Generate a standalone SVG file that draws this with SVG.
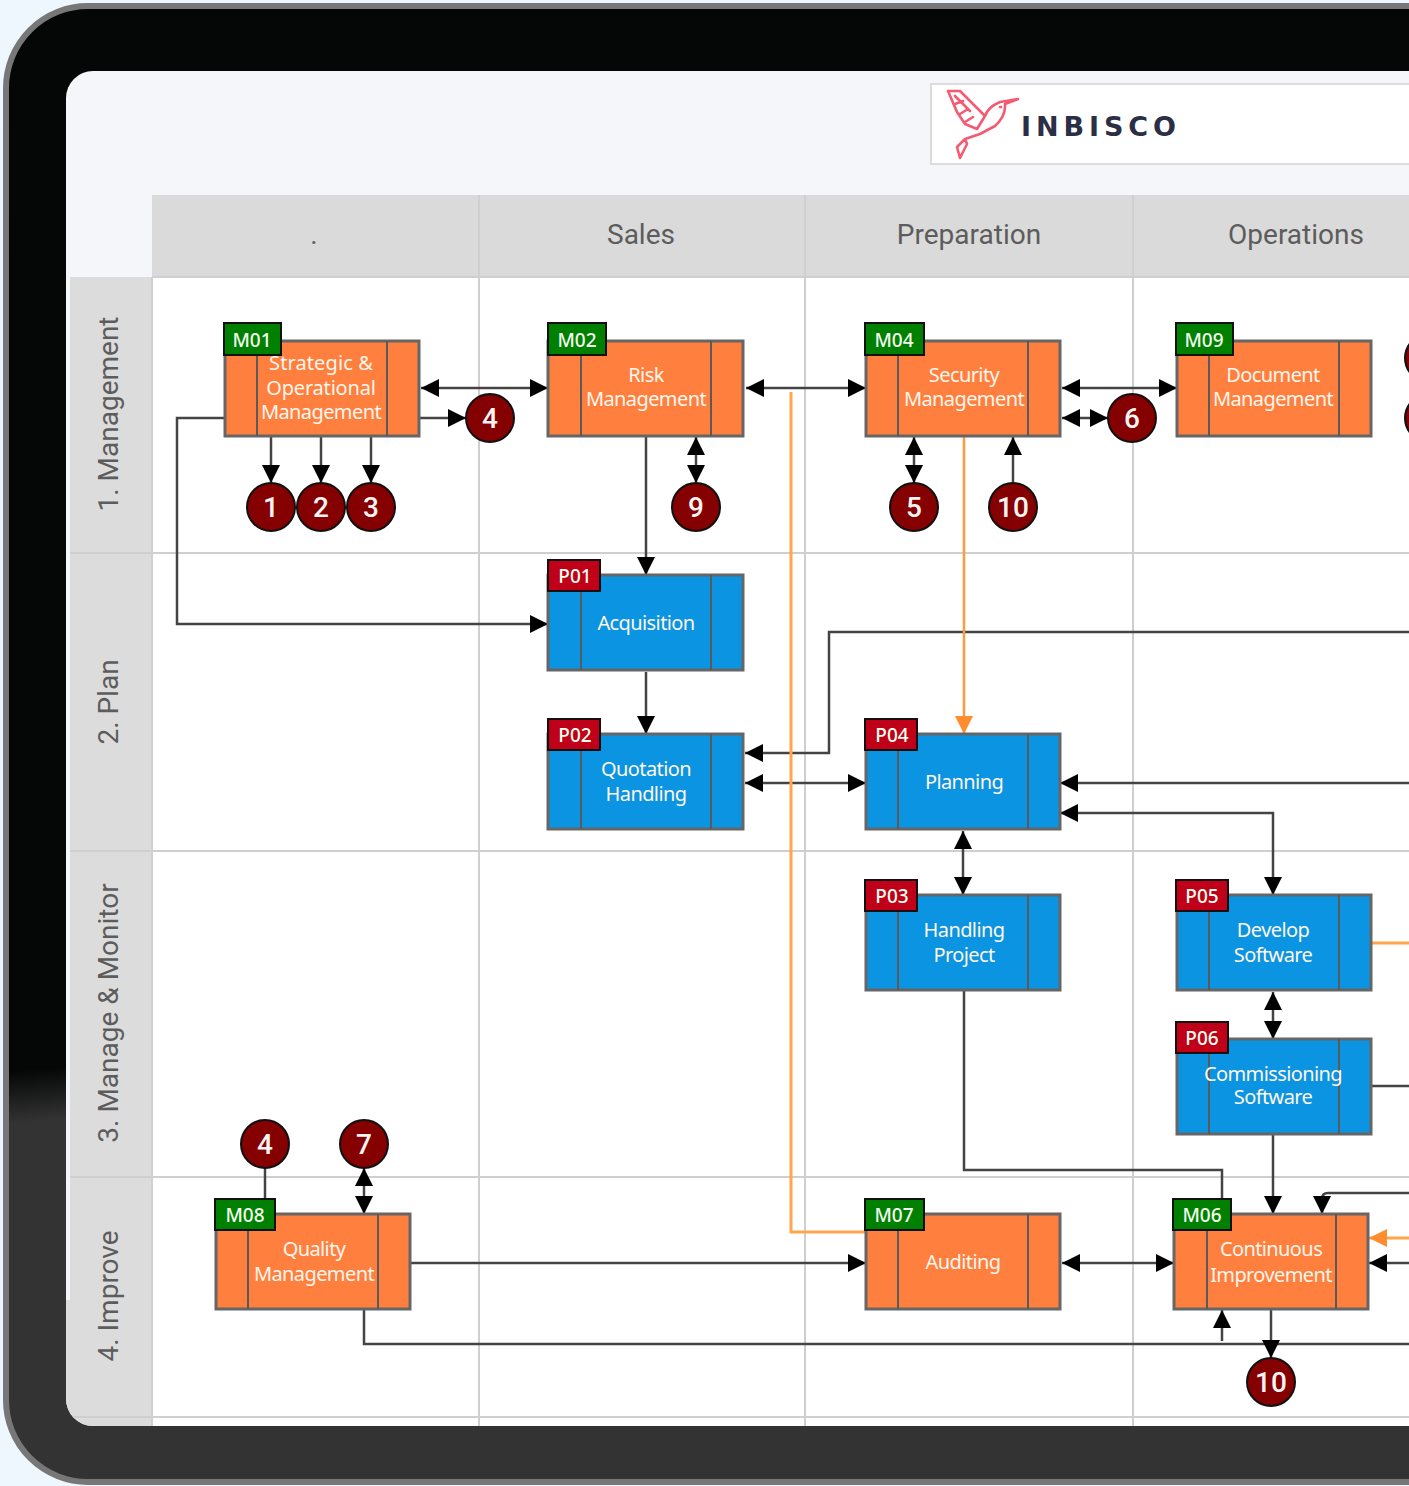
<svg xmlns="http://www.w3.org/2000/svg" width="1409" height="1486" viewBox="0 0 1409 1486">
<defs>
<linearGradient id="bezel" x1="0" y1="0" x2="0.1" y2="1"><stop offset="0.715" stop-color="#050606"/><stop offset="0.75" stop-color="#333"/><stop offset="1" stop-color="#333"/></linearGradient>
<clipPath id="screen"><rect x="66" y="71" width="1500" height="1355" rx="27"/></clipPath>
<marker id="a" viewBox="0 0 18 18" refX="18" refY="9" markerWidth="18" markerHeight="18" markerUnits="userSpaceOnUse" orient="auto-start-reverse"><path d="M0 0L18 9L0 18z" fill="#000"/></marker>
<marker id="o" viewBox="0 0 18 18" refX="18" refY="9" markerWidth="18" markerHeight="18" markerUnits="userSpaceOnUse" orient="auto-start-reverse"><path d="M0 0L18 9L0 18z" fill="#ff8c2e"/></marker>
</defs>
<style>
.box{stroke:#666;stroke-width:3}
.m{fill:#ff7f3f}.p{fill:#0a94e2}
.div{stroke:#5a5a5a;stroke-width:2;fill:none}
.tag{stroke:#111;stroke-width:2}
.tg{fill:#008000}.tr{fill:#c00018}
.tt{font:500 19px "Noto Sans",sans-serif;fill:#f4fff0;text-anchor:middle}
.lb{font:400 20px "Noto Sans",sans-serif;fill:#fff6ec;text-anchor:middle;letter-spacing:-.6px}
.c{fill:#850000;stroke:#111;stroke-width:2}
.ct{font:500 28px Roboto,sans-serif;fill:#f8f4f4;text-anchor:middle}
.hd{font:400 28px Roboto,sans-serif;fill:#5c5c5c;text-anchor:middle}
.grid{stroke:#cfcfcf;stroke-width:2;fill:none}
.l{fill:none;stroke:#444;stroke-width:2.5}
.y{fill:none;stroke:#ffa64d;stroke-width:3}
.ar{marker-end:url(#a)}.br{marker-start:url(#a);marker-end:url(#a)}
</style>
<rect width="1409" height="1486" fill="#eff7fe"/>
<rect x="6" y="6" width="1600" height="1476" rx="82" fill="url(#bezel)" stroke="#777" stroke-width="6"/>
<g clip-path="url(#screen)">
<rect x="66" y="71" width="1500" height="1355" fill="#f4f6f9"/>
<rect x="152" y="277" width="1300" height="1150" fill="#fff"/>
<rect x="152" y="195" width="1300" height="82" fill="#dadada"/>
<path d="M70 277H152V1427H66V1300H70Z" fill="#dcdcdc"/>
<path class="grid" d="M479 195V1426M805 195V1426M1133 195V1426M70 553H1409M70 851H1409M70 1177H1409M66 1417H1409M152 277H1409M152 277V1426"/>
</g>
<g id="logo">
<rect x="931" y="84" width="500" height="80" fill="#fff" stroke="#dcdcdc" stroke-width="2"/>
<path d="M948 91L960 91L973 104L985 116Q988 107 1000 102L1018 99L1005 104Q1006 116 995 126L980 134L965 139L957 147L960 158L967 144L965 139M948 91L957 112L965 124L977 129L985 116M955 96L970 111M955 104L963 101M960 114L968 109M965 122L973 117M1000 107h1" fill="none" stroke="#f45a72" stroke-width="2.6" stroke-linejoin="round" stroke-linecap="round"/>
<text x="1021" y="136" textLength="155" style="font:700 27px 'DejaVu Sans',sans-serif;fill:#2a2f45">INBISCO</text>
</g>
<g id="headers">
<text class="hd" x="314" y="244">.</text>
<text class="hd" x="641" y="244">Sales</text>
<text class="hd" x="969" y="244">Preparation</text>
<text class="hd" x="1296" y="244">Operations</text>
<text class="hd" transform="translate(118 414) rotate(-90)">1. Management</text>
<text class="hd" transform="translate(118 702) rotate(-90)">2. Plan</text>
<text class="hd" transform="translate(118 1013) rotate(-90)">3. Manage &amp; Monitor</text>
<text class="hd" transform="translate(118 1296) rotate(-90)">4. Improve</text>
</g>
<g id="connectors">
<path class="l br" d="M421 388H548"/>
<path class="l ar" d="M420 418H466"/>
<path class="l ar" d="M271 437V483"/>
<path class="l ar" d="M321 437V483"/>
<path class="l ar" d="M371 437V483"/>
<path class="l ar" d="M224 418H177V624H548"/>
<path class="l ar" d="M646 437V575"/>
<path class="l br" d="M696 437V483"/>
<path class="l br" d="M746 388H866"/>
<path class="l br" d="M1062 388H1177"/>
<path class="l br" d="M1062 418H1108"/>
<path class="l br" d="M914 437V483"/>
<path class="l ar" d="M1013 483V437"/>
<path class="l ar" d="M646 672V734"/>
<path class="l ar" d="M1409 632H829V753H745"/>
<path class="l br" d="M745 783H866"/>
<path class="l ar" d="M1409 783H1060"/>
<path class="l br" d="M1060 813H1273V895"/>
<path class="l br" d="M963 831V895"/>
<path class="l br" d="M1273 992V1039"/>
<path class="l ar" d="M1273 1134V1214"/>
<path class="l" d="M964 990V1170H1222V1199"/>
<path class="l" d="M1372 1086H1409"/>
<path class="l ar" d="M1409 1193H1328Q1322 1193 1322 1199V1214"/>
<path class="l ar" d="M1409 1263H1369"/>
<path class="l ar" d="M411 1263H866"/>
<path class="l br" d="M1062 1263H1174"/>
<path class="l" d="M265 1168V1199"/>
<path class="l br" d="M364 1168V1214"/>
<path class="l" d="M364 1310V1344H1409"/>
<path class="l ar" d="M1222 1341V1310"/>
<path class="l ar" d="M1271 1310V1358"/>
<path class="y" d="M866 1232H791V392"/>
<path class="y" d="M1372 943H1409"/>
<path fill="none" stroke="#ff9a40" stroke-width="2.5" marker-end="url(#o)" d="M964 437V734"/>
<path fill="none" stroke="#ffa64d" stroke-width="3" marker-end="url(#o)" d="M1409 1238H1369"/>
</g>
<g id="M01"><rect class="box m" x="225" y="341" width="194" height="95"/><path class="div" d="M257 341V436M387 341V436"/><rect class="tag tg" x="224" y="323" width="57" height="32"/><text class="tt" x="252" y="347">M01</text><text class="lb" x="321" y="370" style="letter-spacing:.1px">Strategic &amp;</text><text class="lb" x="321" y="395" style="letter-spacing:-.2px">Operational</text><text class="lb" x="321" y="419">Management</text></g>
<g id="M02"><rect class="box m" x="548" y="341" width="195" height="95"/><path class="div" d="M581 341V436M711 341V436"/><rect class="tag tg" x="548" y="323" width="58" height="32"/><text class="tt" x="577" y="347">M02</text><text class="lb" x="646" y="382">Risk</text><text class="lb" x="646" y="406">Management</text></g>
<g id="M04"><rect class="box m" x="866" y="341" width="194" height="95"/><path class="div" d="M898 341V436M1028 341V436"/><rect class="tag tg" x="865" y="323" width="59" height="32"/><text class="tt" x="894" y="347">M04</text><text class="lb" x="964" y="382">Security</text><text class="lb" x="964" y="406">Management</text></g>
<g id="M09"><rect class="box m" x="1177" y="341" width="194" height="95"/><path class="div" d="M1209 341V436M1339 341V436"/><rect class="tag tg" x="1176" y="323" width="57" height="32"/><text class="tt" x="1204" y="347">M09</text><text class="lb" x="1273" y="382">Document</text><text class="lb" x="1273" y="406">Management</text></g>
<g id="P01"><rect class="box p" x="548" y="575" width="195" height="95"/><path class="div" d="M581 575V670M711 575V670"/><rect class="tag tr" x="548" y="560" width="52" height="31"/><text class="tt" x="575" y="583">P01</text><text class="lb" x="646" y="630">Acquisition</text></g>
<g id="P02"><rect class="box p" x="548" y="734" width="195" height="95"/><path class="div" d="M581 734V829M711 734V829"/><rect class="tag tr" x="548" y="719" width="52" height="31"/><text class="tt" x="575" y="742">P02</text><text class="lb" x="646" y="776">Quotation</text><text class="lb" x="646" y="801">Handling</text></g>
<g id="P04"><rect class="box p" x="866" y="734" width="194" height="95"/><path class="div" d="M898 734V829M1028 734V829"/><rect class="tag tr" x="865" y="719" width="52" height="31"/><text class="tt" x="892" y="742">P04</text><text class="lb" x="964" y="789">Planning</text></g>
<g id="P03"><rect class="box p" x="866" y="895" width="194" height="95"/><path class="div" d="M898 895V990M1028 895V990"/><rect class="tag tr" x="865" y="880" width="52" height="31"/><text class="tt" x="892" y="903">P03</text><text class="lb" x="964" y="937">Handling</text><text class="lb" x="964" y="962">Project</text></g>
<g id="P05"><rect class="box p" x="1177" y="895" width="194" height="95"/><path class="div" d="M1209 895V990M1339 895V990"/><rect class="tag tr" x="1176" y="880" width="52" height="31"/><text class="tt" x="1202" y="903">P05</text><text class="lb" x="1273" y="937">Develop</text><text class="lb" x="1273" y="962">Software</text></g>
<g id="P06"><rect class="box p" x="1177" y="1039" width="194" height="95"/><path class="div" d="M1209 1039V1134M1339 1039V1134"/><rect class="tag tr" x="1176" y="1022" width="52" height="31"/><text class="tt" x="1202" y="1045">P06</text><text class="lb" x="1273" y="1081">Commissioning</text><text class="lb" x="1273" y="1104">Software</text></g>
<g id="M08"><rect class="box m" x="216" y="1214" width="194" height="95"/><path class="div" d="M248 1214V1309M378 1214V1309"/><rect class="tag tg" x="215" y="1199" width="60" height="31"/><text class="tt" x="245" y="1222">M08</text><text class="lb" x="314" y="1256">Quality</text><text class="lb" x="314" y="1281">Management</text></g>
<g id="M07"><rect class="box m" x="866" y="1214" width="194" height="95"/><path class="div" d="M898 1214V1309M1028 1214V1309"/><rect class="tag tg" x="865" y="1199" width="59" height="31"/><text class="tt" x="894" y="1222">M07</text><text class="lb" x="963" y="1269">Auditing</text></g>
<g id="M06"><rect class="box m" x="1174" y="1214" width="194" height="95"/><path class="div" d="M1207 1214V1309M1336 1214V1309"/><rect class="tag tg" x="1173" y="1199" width="58" height="31"/><text class="tt" x="1202" y="1222">M06</text><text class="lb" x="1271" y="1256">Continuous</text><text class="lb" x="1271" y="1282">Improvement</text></g>
<g id="c1"><circle class="c" cx="271" cy="507" r="24"/><text class="ct" x="271" y="517">1</text></g>
<g id="c2"><circle class="c" cx="321" cy="507" r="24"/><text class="ct" x="321" y="517">2</text></g>
<g id="c3"><circle class="c" cx="371" cy="507" r="24"/><text class="ct" x="371" y="517">3</text></g>
<g id="c4a"><circle class="c" cx="490" cy="418" r="24"/><text class="ct" x="490" y="428">4</text></g>
<g id="c9"><circle class="c" cx="696" cy="507" r="24"/><text class="ct" x="696" y="517">9</text></g>
<g id="c5"><circle class="c" cx="914" cy="507" r="24"/><text class="ct" x="914" y="517">5</text></g>
<g id="c10a"><circle class="c" cx="1013" cy="507" r="24"/><text class="ct" x="1013" y="517">10</text></g>
<g id="c6"><circle class="c" cx="1132" cy="418" r="24"/><text class="ct" x="1132" y="428">6</text></g>
<g id="c4b"><circle class="c" cx="265" cy="1144" r="24"/><text class="ct" x="265" y="1154">4</text></g>
<g id="c7"><circle class="c" cx="364" cy="1144" r="24"/><text class="ct" x="364" y="1154">7</text></g>
<g id="c10b"><circle class="c" cx="1271" cy="1382" r="24"/><text class="ct" x="1271" y="1392">10</text></g>
<g id="cx1"><circle class="c" cx="1429" cy="358" r="24"/></g>
<g id="cx2"><circle class="c" cx="1429" cy="418" r="24"/></g>
</svg>
